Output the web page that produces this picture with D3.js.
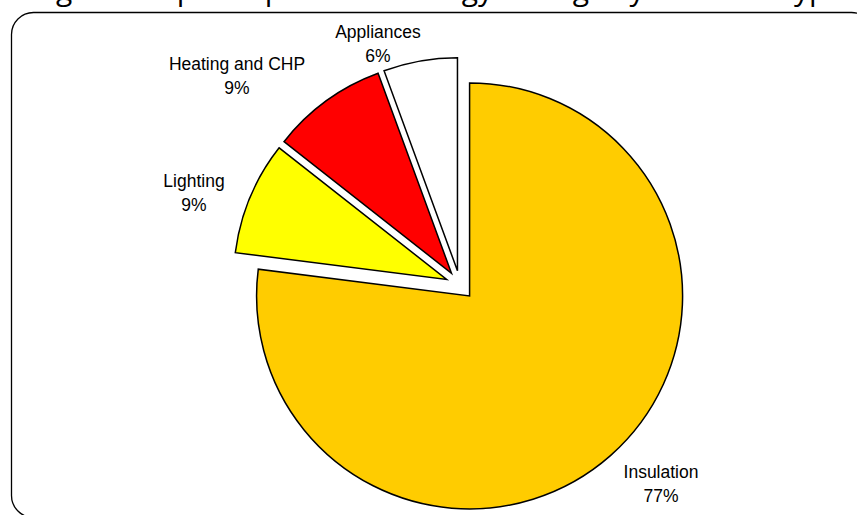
<!DOCTYPE html>
<html>
<head>
<meta charset="utf-8">
<script src="https://cdn.jsdelivr.net/npm/d3@7"></script>
<style>
body { margin: 0; background: #fff; }
text { font-family: "Liberation Sans", Arial, sans-serif; fill: #000; }
</style>
</head>
<body>
<div id="container"></div>
<script>
var categories = ["Insulation", "Lighting", "Heating and CHP", "Appliances"];
var shares = [77.0, 8.6, 8.8, 5.6];
var colours = ["#ffcc00", "#ffff00", "#ff0000", "#ffffff"];
var title = "Figure 5: Split of potential energy savings by measure type";

var width = 857,
	height = 515,
	cx = 460,
	cy = 285,
	radius = 213,
	explode = 14.5;

// label anchor points, [x, first baseline]
var labelPos = [[661, 478], [194, 187], [237, 70], [378, 38]];

var svg = d3.select("#container")
	.append("svg")
		.attr("width", width)
		.attr("height", height);

// title sits mostly above the top edge, only descenders show
svg.append("text")
	.attr("x", width / 2 + 10)
	.attr("y", -0.5)
	.attr("text-anchor", "middle")
	.style("font-family", "'Open Sans', sans-serif")
	.style("font-size", "30px")
	.text(title);

svg.append("rect")
	.attr("x", 11.5)
	.attr("y", 12.5)
	.attr("width", 862)
	.attr("height", 505)
	.attr("rx", 22)
	.attr("fill", "none")
	.attr("stroke", "#000")
	.attr("stroke-width", 1.3);

var pie = d3.pie().sort(null).value(function(d){ return d; });
var arc = d3.arc().innerRadius(0).outerRadius(radius);
var arcs = pie(shares);

var g = svg.append("g").attr("transform", "translate(" + cx + "," + cy + ")");

g.selectAll("path")
	.data(arcs)
	.enter().append("path")
	.attr("d", arc)
	.attr("fill", function(d, i){ return colours[i]; })
	.attr("stroke", "#000")
	.attr("stroke-width", 1.5)
	.attr("stroke-linejoin", "miter")
	.attr("transform", function(d){
		var a = (d.startAngle + d.endAngle) / 2;
		return "translate(" + (Math.sin(a) * explode) + "," + (-Math.cos(a) * explode) + ")";
	});

var totals = d3.sum(shares);
var labels = svg.selectAll("g.lab")
	.data(arcs)
	.enter().append("g")
	.attr("class", "lab");

labels.append("text")
	.attr("x", function(d, i){ return labelPos[i][0]; })
	.attr("y", function(d, i){ return labelPos[i][1]; })
	.attr("text-anchor", "middle")
	.style("font-size", "17.5px")
	.text(function(d, i){ return categories[i]; });

labels.append("text")
	.attr("x", function(d, i){ return labelPos[i][0]; })
	.attr("y", function(d, i){ return labelPos[i][1] + 24; })
	.attr("text-anchor", "middle")
	.style("font-size", "17.5px")
	.text(function(d){ return Math.round(d.value / totals * 100) + "%"; });
</script>
</body>
</html>
